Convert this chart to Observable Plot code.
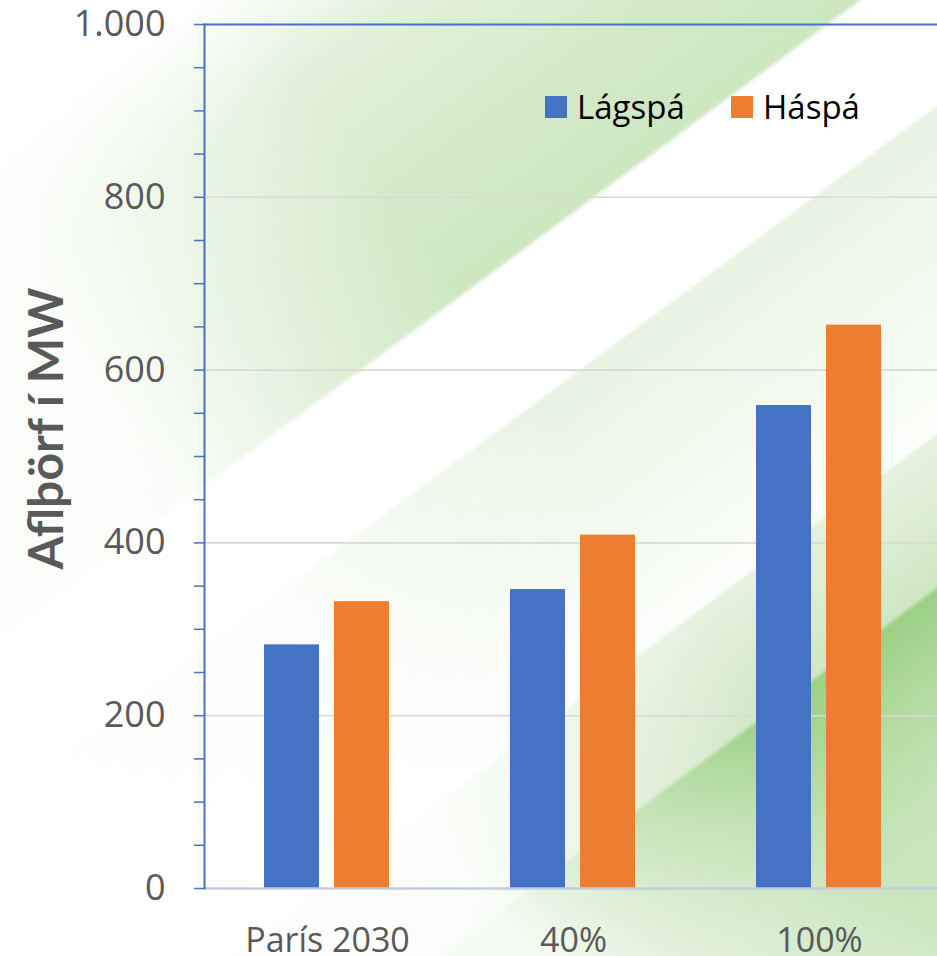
<!DOCTYPE html>
<html><head><meta charset="utf-8">
<script src="https://cdn.jsdelivr.net/npm/d3@7"></script>
<script src="https://cdn.jsdelivr.net/npm/@observablehq/plot@0.6"></script>
<style>
html,body{margin:0;padding:0;width:937px;height:956px;overflow:hidden;background:#fff;}
#wrap{position:relative;width:937px;height:956px;overflow:hidden;
  background:
    linear-gradient(53.5deg, rgba(255,255,255,1) 0%, rgba(255,255,255,0.9) 32%, rgba(255,255,255,0.45) 44%, rgba(255,255,255,0) 58%),
    linear-gradient(143.5deg, #ffffff 0%, #ffffff 9%, #e2f1db 18%, #d3eac8 30%, #cde7c1 38.4%, #ffffff 38.8%, #ffffff 48.3%, #e8f3e2 48.6%, #f3f9f0 60%, #fcfefb 68.2%, #e6f2df 68.5%, #cfe7c4 77.5%, #9bd085 77.9%, #b5dba3 84%, #c4e3b6 90%, #cfe8c4 100%);
}
#legend{position:absolute;top:84px;left:0;font-family:"Open Sans",sans-serif;font-size:33px;color:#000;}
.li{position:absolute;top:0;display:flex;align-items:center;white-space:nowrap;}
.sw{width:22px;height:22px;margin-right:10px;}
svg{display:block}
</style></head><body><div id="wrap"></div>
<script>
// ---- data ----
const categories = ["París 2030", "40%", "100%"];
const series = ["Lágspá", "Háspá"];
const lowValues = [282, 346, 559];   // Lágspá
const highValues = [332, 409, 652];  // Háspá
const yTickLabels = [0, 200, 400, 600, 800, 1000];
const yMinorTicks = d3.range(0, 1001, 50);
const gridTicks = [200, 400, 600, 800];
const yTitle = "Aflþörf í MW";
const colors = ["#4472C4", "#ED7D31"];

const table = categories.flatMap((c, i) => [
  {category: c, series: series[0], value: lowValues[i]},
  {category: c, series: series[1], value: highValues[i]}
]);

const isLocale = d3.formatLocale({decimal: ",", thousands: ".", grouping: [3], currency: ["", " kr"]});
const fmt = isLocale.format(",");
const axisBlue = "#4472C4";
const textGrey = "#595959";
const fontFam = "'Open Sans', sans-serif";

const chart = Plot.plot({
  width: 942,
  height: 956,
  marginLeft: 204,
  marginRight: 0,
  marginTop: 24,
  marginBottom: 68,
  style: {background: "transparent", fontFamily: fontFam, maxWidth: "none", overflow: "visible"},
  fx: {domain: categories, padding: 0, label: null},
  x: {domain: series, paddingInner: 0.214, paddingOuter: 0.864, axis: null},
  y: {domain: [0, 1000], label: null},
  color: {domain: series, range: colors},
  marks: [
    Plot.gridY(gridTicks, {stroke: "#d9d9d9", strokeOpacity: 1, strokeWidth: 1.6}),
    Plot.barY(table, {fx: "category", x: "series", y: "value", fill: "series"}),
    Plot.ruleY([0], {stroke: "#c3cde0", strokeWidth: 2.5}),
    Plot.frame({anchor: "left", facet: "super", stroke: axisBlue, strokeWidth: 2}),
    Plot.frame({anchor: "top", facet: "super", stroke: axisBlue, strokeWidth: 2}),
    Plot.axisY(yMinorTicks, {tickSize: 10, tickFormat: () => "", stroke: axisBlue, strokeWidth: 1.5, label: null}),
    Plot.axisY(yTickLabels, {tickSize: 0, tickPadding: 39, tickFormat: fmt, fontSize: 36, fill: textGrey, label: null}),
    Plot.text([yTitle], {text: d => d, frameAnchor: "left", textAnchor: "middle", lineAnchor: "middle", rotate: -90, dx: -157, dy: -28, fontSize: 48, fontWeight: "bold", fontFamily: "Lato, sans-serif", fill: textGrey, facet: "super"}),
    Plot.axisFx({anchor: "bottom", tickSize: 0, tickPadding: 39, fontSize: 34, fill: textGrey, label: null})
  ]
});

const wrap = document.getElementById("wrap");
wrap.appendChild(chart);

const legend = document.createElement("div");
legend.id = "legend";
const lefts = [545, 731];
series.forEach((s, i) => {
  const it = document.createElement("div");
  it.className = "li";
  it.style.left = lefts[i] + "px";
  const sw = document.createElement("div");
  sw.className = "sw";
  sw.style.background = colors[i];
  const t = document.createElement("span");
  t.textContent = s;
  it.appendChild(sw); it.appendChild(t);
  legend.appendChild(it);
});
wrap.appendChild(legend);
</script></body></html>
